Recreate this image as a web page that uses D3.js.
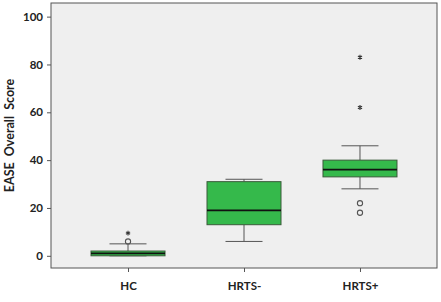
<!DOCTYPE html>
<html>
<head>
<meta charset="utf-8">
<script src="https://cdn.jsdelivr.net/npm/d3@7"></script>
<style>
  body { margin: 0; background: #fff; }
  svg { display: block; }
  text { font-family: Lato, "Open Sans", sans-serif; font-weight: bold; fill: #222; }
</style>
</head>
<body>
<svg id="chart" width="441" height="302"></svg>
<script>
// Box plot: EASE overall score per group
const groups = ['HC', 'HRTS-', 'HRTS+'];
const q1 = [0, 13, 33];
const median = [1, 19, 36];
const q3 = [2, 31, 40];
const whiskerLow = [0, 6, 28];
const whiskerHigh = [5, 32, 46];
const outliers = [[6], [], [22, 18]];
const extremes = [[9.5], [], [83, 62]];
const yTicks = [0, 20, 40, 60, 80, 100];

(function() {
  const svg = d3.select('#chart');
  const left = 51, right = 437, top = 3, bottom = 268;

  const x = d3.scalePoint().domain(groups).range([left, right]).padding(0.664);
  const y = d3.scaleLinear().domain([-5.1, 105.7]).range([bottom, top]);
  const boxW = 74, capW = 37;

  svg.append('rect')
    .attr('x', left).attr('y', top)
    .attr('width', right - left).attr('height', bottom - top)
    .attr('fill', '#efefef')
    .attr('stroke', '#555').attr('stroke-width', 1);

  const yAxis = svg.append('g')
    .attr('transform', `translate(${left},0)`)
    .call(d3.axisLeft(y).tickValues(yTicks).tickSize(4).tickPadding(4));
  yAxis.select('.domain').remove();
  yAxis.selectAll('line').attr('stroke', '#555');
  yAxis.selectAll('text').attr('font-size', 11.5).attr('fill', '#222')
    .style('font-family', 'Lato, sans-serif').style('font-weight', 'bold');

  const xAxis = svg.append('g')
    .attr('transform', `translate(0,${bottom})`)
    .call(d3.axisBottom(x).tickSize(4).tickPadding(10));
  xAxis.select('.domain').remove();
  xAxis.selectAll('line').attr('stroke', '#555');
  xAxis.selectAll('text').attr('font-size', 11.5).attr('fill', '#222')
    .style('font-family', 'Lato, sans-serif').style('font-weight', 'bold');

  svg.append('text')
    .attr('transform', `translate(14,${(top + bottom) / 2}) rotate(-90)`)
    .attr('text-anchor', 'middle')
    .attr('font-size', 12.5)
    .attr('xml:space', 'preserve')
    .text('EASE  Overall  Score');

  groups.forEach((g, i) => {
    const cx = x(g);
    const grp = svg.append('g');
    // whiskers
    grp.append('line')
      .attr('x1', cx).attr('x2', cx)
      .attr('y1', y(whiskerHigh[i])).attr('y2', y(q3[i]))
      .attr('stroke', '#555');
    grp.append('line')
      .attr('x1', cx).attr('x2', cx)
      .attr('y1', y(whiskerLow[i])).attr('y2', y(q1[i]))
      .attr('stroke', '#555');
    [whiskerLow[i], whiskerHigh[i]].forEach(v => {
      grp.append('line')
        .attr('x1', cx - capW / 2).attr('x2', cx + capW / 2)
        .attr('y1', y(v)).attr('y2', y(v))
        .attr('stroke', '#555');
    });
    // box
    const h = Math.max(y(q1[i]) - y(q3[i]), 4);
    grp.append('rect')
      .attr('x', cx - boxW / 2).attr('y', y(q3[i]))
      .attr('width', boxW).attr('height', h)
      .attr('fill', '#35b94b')
      .attr('stroke', '#3a5a3a').attr('stroke-width', 1);
    grp.append('line')
      .attr('x1', cx - boxW / 2).attr('x2', cx + boxW / 2)
      .attr('y1', y(median[i])).attr('y2', y(median[i]))
      .attr('stroke', '#111').attr('stroke-width', 1.8);
    // outliers
    outliers[i].forEach(v => {
      grp.append('circle')
        .attr('cx', cx).attr('cy', y(v)).attr('r', 2.6)
        .attr('fill', 'none').attr('stroke', '#555').attr('stroke-width', 1.1);
    });
    extremes[i].forEach(v => {
      grp.append('path')
        .attr('transform', `translate(${cx},${y(v)})`)
        .attr('d', d3.symbol(d3.symbolAsterisk, 16)())
        .attr('fill', 'none').attr('stroke', '#333').attr('stroke-width', 1.1);
    });
  });
})();
</script>
</body>
</html>
